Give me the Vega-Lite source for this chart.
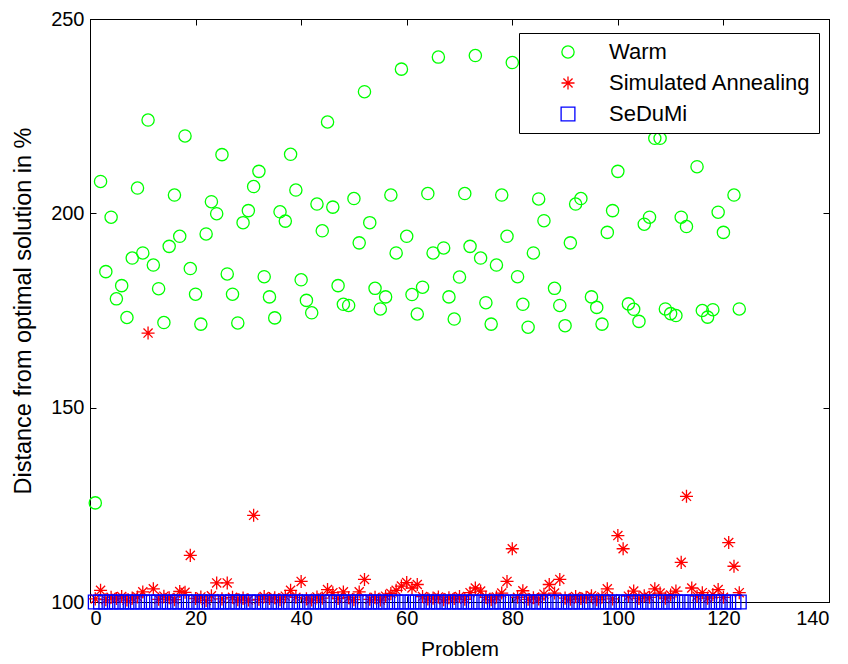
{
  "$schema": "https://vega.github.io/schema/vega-lite/v6.json",
  "width": 739,
  "height": 583,
  "autosize": {"type": "none"},
  "padding": {"left": 90, "top": 19, "right": 19, "bottom": 62},
  "background": "white",
  "config": {
    "font": "Liberation Sans",
    "view": {"stroke": "black", "strokeWidth": 1},
    "axis": {
      "grid": false,
      "domainColor": "black",
      "tickColor": "black",
      "labelColor": "black",
      "titleColor": "black",
      "labelFont": "Liberation Sans",
      "titleFont": "Liberation Sans",
      "labelFontSize": 20,
      "titleFontSize": 21,
      "titleFontWeight": "normal",
      "tickSize": -6
    }
  },
  "datasets": {
    "pts": [
      {"p":1,"s":"Warm","v":125.5},{"p":2,"s":"Warm","v":208.2},{"p":3,"s":"Warm","v":185},{"p":4,"s":"Warm","v":199},{"p":5,"s":"Warm","v":178},{"p":6,"s":"Warm","v":181.4},{"p":7,"s":"Warm","v":173.2},
      {"p":8,"s":"Warm","v":188.5},{"p":9,"s":"Warm","v":206.5},{"p":10,"s":"Warm","v":189.8},{"p":11,"s":"Warm","v":224},{"p":12,"s":"Warm","v":186.7},{"p":13,"s":"Warm","v":180.6},{"p":14,"s":"Warm","v":171.9},
      {"p":15,"s":"Warm","v":191.5},{"p":16,"s":"Warm","v":204.7},{"p":17,"s":"Warm","v":194.1},{"p":18,"s":"Warm","v":219.9},{"p":19,"s":"Warm","v":185.8},{"p":20,"s":"Warm","v":179.2},{"p":21,"s":"Warm","v":171.5},
      {"p":22,"s":"Warm","v":194.7},{"p":23,"s":"Warm","v":203},{"p":24,"s":"Warm","v":199.9},{"p":25,"s":"Warm","v":215.1},{"p":26,"s":"Warm","v":184.4},{"p":27,"s":"Warm","v":179.2},{"p":28,"s":"Warm","v":171.8},
      {"p":29,"s":"Warm","v":197.6},{"p":30,"s":"Warm","v":200.7},{"p":31,"s":"Warm","v":206.9},{"p":32,"s":"Warm","v":210.8},{"p":33,"s":"Warm","v":183.7},{"p":34,"s":"Warm","v":178.5},{"p":35,"s":"Warm","v":173.1},
      {"p":36,"s":"Warm","v":200.4},{"p":37,"s":"Warm","v":198},{"p":38,"s":"Warm","v":215.2},{"p":39,"s":"Warm","v":206},{"p":40,"s":"Warm","v":182.9},{"p":41,"s":"Warm","v":177.6},{"p":42,"s":"Warm","v":174.4},
      {"p":43,"s":"Warm","v":202.4},{"p":44,"s":"Warm","v":195.5},{"p":45,"s":"Warm","v":223.5},{"p":46,"s":"Warm","v":201.6},{"p":47,"s":"Warm","v":181.4},{"p":48,"s":"Warm","v":176.6},{"p":49,"s":"Warm","v":176.3},
      {"p":50,"s":"Warm","v":203.8},{"p":51,"s":"Warm","v":192.4},{"p":52,"s":"Warm","v":231.3},{"p":53,"s":"Warm","v":197.6},{"p":54,"s":"Warm","v":180.7},{"p":55,"s":"Warm","v":175.4},{"p":56,"s":"Warm","v":178.5},
      {"p":57,"s":"Warm","v":204.7},{"p":58,"s":"Warm","v":189.8},{"p":59,"s":"Warm","v":237.1},{"p":60,"s":"Warm","v":194.1},{"p":61,"s":"Warm","v":179.1},{"p":62,"s":"Warm","v":174.1},{"p":63,"s":"Warm","v":181},
      {"p":64,"s":"Warm","v":205.1},{"p":65,"s":"Warm","v":189.8},{"p":66,"s":"Warm","v":240.2},{"p":67,"s":"Warm","v":191.1},{"p":68,"s":"Warm","v":178.5},{"p":69,"s":"Warm","v":172.8},{"p":70,"s":"Warm","v":183.6},
      {"p":71,"s":"Warm","v":205.1},{"p":72,"s":"Warm","v":191.5},{"p":73,"s":"Warm","v":240.6},{"p":74,"s":"Warm","v":188.5},{"p":75,"s":"Warm","v":177},{"p":76,"s":"Warm","v":171.5},{"p":77,"s":"Warm","v":186.7},
      {"p":78,"s":"Warm","v":204.7},{"p":79,"s":"Warm","v":194.1},{"p":80,"s":"Warm","v":238.8},{"p":81,"s":"Warm","v":183.7},{"p":82,"s":"Warm","v":176.6},{"p":83,"s":"Warm","v":170.7},{"p":84,"s":"Warm","v":189.8},
      {"p":85,"s":"Warm","v":203.7},{"p":86,"s":"Warm","v":198.1},{"p":87,"s":"Warm","v":236},{"p":88,"s":"Warm","v":180.7},{"p":89,"s":"Warm","v":176.3},{"p":90,"s":"Warm","v":171.1},{"p":91,"s":"Warm","v":192.4},
      {"p":92,"s":"Warm","v":202.4},{"p":93,"s":"Warm","v":203.8},{"p":94,"s":"Warm","v":231.8},{"p":95,"s":"Warm","v":178.5},{"p":96,"s":"Warm","v":175.8},{"p":97,"s":"Warm","v":171.5},{"p":98,"s":"Warm","v":195.1},
      {"p":99,"s":"Warm","v":200.7},{"p":100,"s":"Warm","v":210.8},{"p":101,"s":"Warm","v":226.2},{"p":102,"s":"Warm","v":176.7},{"p":103,"s":"Warm","v":175.3},{"p":104,"s":"Warm","v":172.2},{"p":105,"s":"Warm","v":197.2},
      {"p":106,"s":"Warm","v":199},{"p":107,"s":"Warm","v":219.3},{"p":108,"s":"Warm","v":219.3},{"p":109,"s":"Warm","v":175.4},{"p":110,"s":"Warm","v":174.2},{"p":111,"s":"Warm","v":173.7},{"p":112,"s":"Warm","v":199},
      {"p":113,"s":"Warm","v":196.6},{"p":114,"s":"Warm","v":228.8},{"p":115,"s":"Warm","v":212},{"p":116,"s":"Warm","v":175},{"p":117,"s":"Warm","v":173.3},{"p":118,"s":"Warm","v":175.2},{"p":119,"s":"Warm","v":200.3},
      {"p":120,"s":"Warm","v":195.1},{"p":121,"s":"Warm","v":239.3},{"p":122,"s":"Warm","v":204.7},{"p":123,"s":"Warm","v":175.4},

      {"p":1,"s":"Simulated Annealing","v":100.8},{"p":2,"s":"Simulated Annealing","v":103.0},{"p":3,"s":"Simulated Annealing","v":100.6},{"p":4,"s":"Simulated Annealing","v":101.2},{"p":5,"s":"Simulated Annealing","v":100.9},
      {"p":6,"s":"Simulated Annealing","v":101.4},{"p":7,"s":"Simulated Annealing","v":100.5},{"p":8,"s":"Simulated Annealing","v":101.0},{"p":9,"s":"Simulated Annealing","v":101.3},{"p":10,"s":"Simulated Annealing","v":102.6},
      {"p":11,"s":"Simulated Annealing","v":169.2},{"p":12,"s":"Simulated Annealing","v":103.4},{"p":13,"s":"Simulated Annealing","v":100.7},{"p":14,"s":"Simulated Annealing","v":101.5},{"p":15,"s":"Simulated Annealing","v":101.1},
      {"p":16,"s":"Simulated Annealing","v":100.6},{"p":17,"s":"Simulated Annealing","v":102.7},{"p":18,"s":"Simulated Annealing","v":102.5},{"p":19,"s":"Simulated Annealing","v":112.0},{"p":20,"s":"Simulated Annealing","v":100.9},
      {"p":21,"s":"Simulated Annealing","v":101.3},{"p":22,"s":"Simulated Annealing","v":100.4},{"p":23,"s":"Simulated Annealing","v":101.6},{"p":24,"s":"Simulated Annealing","v":104.9},{"p":25,"s":"Simulated Annealing","v":100.8},
      {"p":26,"s":"Simulated Annealing","v":104.9},{"p":27,"s":"Simulated Annealing","v":101.2},{"p":28,"s":"Simulated Annealing","v":100.6},{"p":29,"s":"Simulated Annealing","v":101.0},{"p":30,"s":"Simulated Annealing","v":100.5},
      {"p":31,"s":"Simulated Annealing","v":122.3},{"p":32,"s":"Simulated Annealing","v":100.7},{"p":33,"s":"Simulated Annealing","v":101.4},{"p":34,"s":"Simulated Annealing","v":100.9},{"p":35,"s":"Simulated Annealing","v":101.1},
      {"p":36,"s":"Simulated Annealing","v":100.6},{"p":37,"s":"Simulated Annealing","v":101.5},{"p":38,"s":"Simulated Annealing","v":103.0},{"p":39,"s":"Simulated Annealing","v":101.2},{"p":40,"s":"Simulated Annealing","v":105.3},
      {"p":41,"s":"Simulated Annealing","v":100.8},{"p":42,"s":"Simulated Annealing","v":100.5},{"p":43,"s":"Simulated Annealing","v":101.3},{"p":44,"s":"Simulated Annealing","v":101.0},{"p":45,"s":"Simulated Annealing","v":103.2},
      {"p":46,"s":"Simulated Annealing","v":102.4},{"p":47,"s":"Simulated Annealing","v":100.9},{"p":48,"s":"Simulated Annealing","v":102.6},{"p":49,"s":"Simulated Annealing","v":101.1},{"p":50,"s":"Simulated Annealing","v":100.6},
      {"p":51,"s":"Simulated Annealing","v":102.6},{"p":52,"s":"Simulated Annealing","v":105.8},{"p":53,"s":"Simulated Annealing","v":100.7},{"p":54,"s":"Simulated Annealing","v":101.2},{"p":55,"s":"Simulated Annealing","v":100.5},
      {"p":56,"s":"Simulated Annealing","v":101.5},{"p":57,"s":"Simulated Annealing","v":102.2},{"p":58,"s":"Simulated Annealing","v":103.0},{"p":59,"s":"Simulated Annealing","v":104.1},{"p":60,"s":"Simulated Annealing","v":105.0},
      {"p":61,"s":"Simulated Annealing","v":103.6},{"p":62,"s":"Simulated Annealing","v":104.5},{"p":63,"s":"Simulated Annealing","v":101.4},{"p":64,"s":"Simulated Annealing","v":100.8},{"p":65,"s":"Simulated Annealing","v":101.0},
      {"p":66,"s":"Simulated Annealing","v":101.3},{"p":67,"s":"Simulated Annealing","v":100.6},{"p":68,"s":"Simulated Annealing","v":101.1},{"p":69,"s":"Simulated Annealing","v":100.9},{"p":70,"s":"Simulated Annealing","v":101.4},
      {"p":71,"s":"Simulated Annealing","v":100.7},{"p":72,"s":"Simulated Annealing","v":102.4},{"p":73,"s":"Simulated Annealing","v":103.6},{"p":74,"s":"Simulated Annealing","v":102.8},{"p":75,"s":"Simulated Annealing","v":101.2},
      {"p":76,"s":"Simulated Annealing","v":100.6},{"p":77,"s":"Simulated Annealing","v":101.3},{"p":78,"s":"Simulated Annealing","v":102.3},{"p":79,"s":"Simulated Annealing","v":105.3},{"p":80,"s":"Simulated Annealing","v":113.7},
      {"p":81,"s":"Simulated Annealing","v":101.2},{"p":82,"s":"Simulated Annealing","v":102.9},{"p":83,"s":"Simulated Annealing","v":100.7},{"p":84,"s":"Simulated Annealing","v":101.1},{"p":85,"s":"Simulated Annealing","v":100.8},
      {"p":86,"s":"Simulated Annealing","v":102.0},{"p":87,"s":"Simulated Annealing","v":104.5},{"p":88,"s":"Simulated Annealing","v":102.3},{"p":89,"s":"Simulated Annealing","v":105.8},{"p":90,"s":"Simulated Annealing","v":101.0},
      {"p":91,"s":"Simulated Annealing","v":100.7},{"p":92,"s":"Simulated Annealing","v":101.4},{"p":93,"s":"Simulated Annealing","v":100.9},{"p":94,"s":"Simulated Annealing","v":101.2},{"p":95,"s":"Simulated Annealing","v":101.6},
      {"p":96,"s":"Simulated Annealing","v":100.6},{"p":97,"s":"Simulated Annealing","v":101.3},{"p":98,"s":"Simulated Annealing","v":103.4},{"p":99,"s":"Simulated Annealing","v":100.8},{"p":100,"s":"Simulated Annealing","v":117.1},
      {"p":101,"s":"Simulated Annealing","v":113.7},{"p":102,"s":"Simulated Annealing","v":101.5},{"p":103,"s":"Simulated Annealing","v":102.8},{"p":104,"s":"Simulated Annealing","v":100.9},{"p":105,"s":"Simulated Annealing","v":101.6},
      {"p":106,"s":"Simulated Annealing","v":101.2},{"p":107,"s":"Simulated Annealing","v":103.4},{"p":108,"s":"Simulated Annealing","v":102.3},{"p":109,"s":"Simulated Annealing","v":101.0},{"p":110,"s":"Simulated Annealing","v":101.8},
      {"p":111,"s":"Simulated Annealing","v":102.8},{"p":112,"s":"Simulated Annealing","v":110.2},{"p":113,"s":"Simulated Annealing","v":127.2},{"p":114,"s":"Simulated Annealing","v":103.6},{"p":115,"s":"Simulated Annealing","v":101.5},
      {"p":116,"s":"Simulated Annealing","v":102.4},{"p":117,"s":"Simulated Annealing","v":101.0},{"p":118,"s":"Simulated Annealing","v":101.9},{"p":119,"s":"Simulated Annealing","v":103.2},{"p":120,"s":"Simulated Annealing","v":101.2},
      {"p":121,"s":"Simulated Annealing","v":115.3},{"p":122,"s":"Simulated Annealing","v":109.2},{"p":123,"s":"Simulated Annealing","v":102.4},

      {"p":1,"s":"SeDuMi","v":100},{"p":2,"s":"SeDuMi","v":100},{"p":3,"s":"SeDuMi","v":100},{"p":4,"s":"SeDuMi","v":100},{"p":5,"s":"SeDuMi","v":100},{"p":6,"s":"SeDuMi","v":100},{"p":7,"s":"SeDuMi","v":100},{"p":8,"s":"SeDuMi","v":100},{"p":9,"s":"SeDuMi","v":100},{"p":10,"s":"SeDuMi","v":100},
      {"p":11,"s":"SeDuMi","v":100},{"p":12,"s":"SeDuMi","v":100},{"p":13,"s":"SeDuMi","v":100},{"p":14,"s":"SeDuMi","v":100},{"p":15,"s":"SeDuMi","v":100},{"p":16,"s":"SeDuMi","v":100},{"p":17,"s":"SeDuMi","v":100},{"p":18,"s":"SeDuMi","v":100},{"p":19,"s":"SeDuMi","v":100},{"p":20,"s":"SeDuMi","v":100},
      {"p":21,"s":"SeDuMi","v":100},{"p":22,"s":"SeDuMi","v":100},{"p":23,"s":"SeDuMi","v":100},{"p":24,"s":"SeDuMi","v":100},{"p":25,"s":"SeDuMi","v":100},{"p":26,"s":"SeDuMi","v":100},{"p":27,"s":"SeDuMi","v":100},{"p":28,"s":"SeDuMi","v":100},{"p":29,"s":"SeDuMi","v":100},{"p":30,"s":"SeDuMi","v":100},
      {"p":31,"s":"SeDuMi","v":100},{"p":32,"s":"SeDuMi","v":100},{"p":33,"s":"SeDuMi","v":100},{"p":34,"s":"SeDuMi","v":100},{"p":35,"s":"SeDuMi","v":100},{"p":36,"s":"SeDuMi","v":100},{"p":37,"s":"SeDuMi","v":100},{"p":38,"s":"SeDuMi","v":100},{"p":39,"s":"SeDuMi","v":100},{"p":40,"s":"SeDuMi","v":100},
      {"p":41,"s":"SeDuMi","v":100},{"p":42,"s":"SeDuMi","v":100},{"p":43,"s":"SeDuMi","v":100},{"p":44,"s":"SeDuMi","v":100},{"p":45,"s":"SeDuMi","v":100},{"p":46,"s":"SeDuMi","v":100},{"p":47,"s":"SeDuMi","v":100},{"p":48,"s":"SeDuMi","v":100},{"p":49,"s":"SeDuMi","v":100},{"p":50,"s":"SeDuMi","v":100},
      {"p":51,"s":"SeDuMi","v":100},{"p":52,"s":"SeDuMi","v":100},{"p":53,"s":"SeDuMi","v":100},{"p":54,"s":"SeDuMi","v":100},{"p":55,"s":"SeDuMi","v":100},{"p":56,"s":"SeDuMi","v":100},{"p":57,"s":"SeDuMi","v":100},{"p":58,"s":"SeDuMi","v":100},{"p":59,"s":"SeDuMi","v":100},{"p":60,"s":"SeDuMi","v":100},
      {"p":61,"s":"SeDuMi","v":100},{"p":62,"s":"SeDuMi","v":100},{"p":63,"s":"SeDuMi","v":100},{"p":64,"s":"SeDuMi","v":100},{"p":65,"s":"SeDuMi","v":100},{"p":66,"s":"SeDuMi","v":100},{"p":67,"s":"SeDuMi","v":100},{"p":68,"s":"SeDuMi","v":100},{"p":69,"s":"SeDuMi","v":100},{"p":70,"s":"SeDuMi","v":100},
      {"p":71,"s":"SeDuMi","v":100},{"p":72,"s":"SeDuMi","v":100},{"p":73,"s":"SeDuMi","v":100},{"p":74,"s":"SeDuMi","v":100},{"p":75,"s":"SeDuMi","v":100},{"p":76,"s":"SeDuMi","v":100},{"p":77,"s":"SeDuMi","v":100},{"p":78,"s":"SeDuMi","v":100},{"p":79,"s":"SeDuMi","v":100},{"p":80,"s":"SeDuMi","v":100},
      {"p":81,"s":"SeDuMi","v":100},{"p":82,"s":"SeDuMi","v":100},{"p":83,"s":"SeDuMi","v":100},{"p":84,"s":"SeDuMi","v":100},{"p":85,"s":"SeDuMi","v":100},{"p":86,"s":"SeDuMi","v":100},{"p":87,"s":"SeDuMi","v":100},{"p":88,"s":"SeDuMi","v":100},{"p":89,"s":"SeDuMi","v":100},{"p":90,"s":"SeDuMi","v":100},
      {"p":91,"s":"SeDuMi","v":100},{"p":92,"s":"SeDuMi","v":100},{"p":93,"s":"SeDuMi","v":100},{"p":94,"s":"SeDuMi","v":100},{"p":95,"s":"SeDuMi","v":100},{"p":96,"s":"SeDuMi","v":100},{"p":97,"s":"SeDuMi","v":100},{"p":98,"s":"SeDuMi","v":100},{"p":99,"s":"SeDuMi","v":100},{"p":100,"s":"SeDuMi","v":100},
      {"p":101,"s":"SeDuMi","v":100},{"p":102,"s":"SeDuMi","v":100},{"p":103,"s":"SeDuMi","v":100},{"p":104,"s":"SeDuMi","v":100},{"p":105,"s":"SeDuMi","v":100},{"p":106,"s":"SeDuMi","v":100},{"p":107,"s":"SeDuMi","v":100},{"p":108,"s":"SeDuMi","v":100},{"p":109,"s":"SeDuMi","v":100},{"p":110,"s":"SeDuMi","v":100},
      {"p":111,"s":"SeDuMi","v":100},{"p":112,"s":"SeDuMi","v":100},{"p":113,"s":"SeDuMi","v":100},{"p":114,"s":"SeDuMi","v":100},{"p":115,"s":"SeDuMi","v":100},{"p":116,"s":"SeDuMi","v":100},{"p":117,"s":"SeDuMi","v":100},{"p":118,"s":"SeDuMi","v":100},{"p":119,"s":"SeDuMi","v":100},{"p":120,"s":"SeDuMi","v":100},
      {"p":121,"s":"SeDuMi","v":100},{"p":122,"s":"SeDuMi","v":100},{"p":123,"s":"SeDuMi","v":100}
    ]
  },
  "data": {"name": "pts"},
  "resolve": {"axis": {"x": "independent", "y": "independent"}},
  "layer": [
    {
      "mark": {"type": "point", "filled": false, "strokeWidth": 1.3, "opacity": 1},
      "encoding": {
        "x": {"field": "p", "type": "quantitative",
              "scale": {"domain": [0, 140], "nice": false, "zero": false},
              "axis": {"orient": "bottom", "values": [0,20,40,60,80,100,120,140], "title": "Problem", "labelPadding": 12, "titlePadding": 10}},
        "y": {"field": "v", "type": "quantitative",
              "scale": {"domain": [100, 250], "nice": false, "zero": false},
              "axis": {"orient": "left", "values": [100,150,200,250], "title": "Distance from optimal solution in %", "labelPadding": 12, "titlePadding": 15, "titleFontSize": 23.5}},
        "shape": {"field": "s", "type": "nominal",
                  "scale": {"domain": ["Warm", "Simulated Annealing", "SeDuMi"],
                            "range": ["circle", "M-1,0L1,0M0,-1L0,1M-0.7,-0.7L0.7,0.7M-0.7,0.7L0.7,-0.7", "square"]},
                  "legend": {"title": null, "orient": "none", "legendX": 429, "legendY": 14,
                             "strokeColor": "black", "fillColor": "white", "padding": 8,
                             "labelFontSize": 22, "labelFont": "Liberation Sans", "labelColor": "black", "labelLimit": 400,
                             "symbolOffset": 30, "labelOffset": 30, "rowPadding": 9, "symbolStrokeWidth": 1.3}},
        "color": {"field": "s", "type": "nominal",
                  "scale": {"domain": ["Warm", "Simulated Annealing", "SeDuMi"], "range": ["#00ff00", "#ff0000", "#0000ff"]}},
        "size": {"field": "s", "type": "nominal",
                 "scale": {"domain": ["Warm", "Simulated Annealing", "SeDuMi"], "range": [150, 190, 175]}}
      }
    },
    {
      "mark": {"type": "point", "opacity": 0},
      "encoding": {
        "x": {"field": "p", "type": "quantitative", "axis": {"orient": "top", "values": [0,20,40,60,80,100,120,140], "labels": false, "title": null}},
        "y": {"field": "v", "type": "quantitative", "axis": {"orient": "right", "values": [100,150,200,250], "labels": false, "title": null}}
      }
    }
  ]
}
